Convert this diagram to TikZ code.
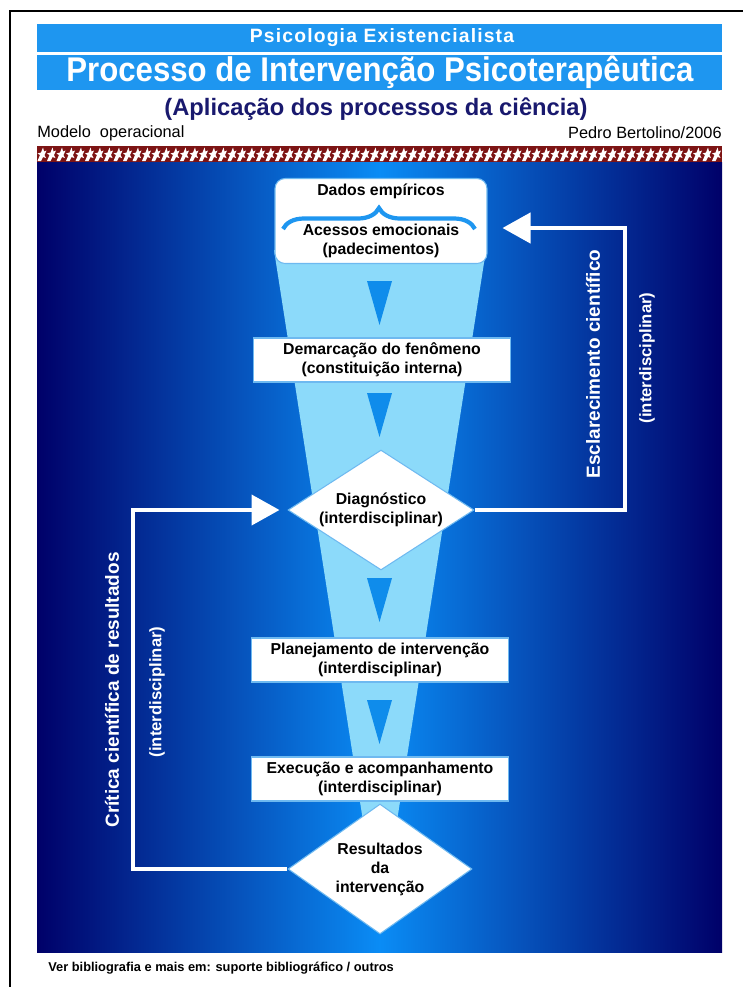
\documentclass[tikz,border=0pt]{standalone}
\usepackage{fontspec}
\setmainfont{Liberation Sans}
\usetikzlibrary{shapes,arrows,positioning,calc,decorations.pathreplacing,arrows.meta}

\definecolor{bandblue}{RGB}{30,150,240}
\definecolor{navy}{RGB}{0,0,105}
\definecolor{midblue}{RGB}{10,140,245}
\definecolor{funnelcyan}{RGB}{140,218,250}
\definecolor{triblue}{RGB}{15,140,235}
\definecolor{titlenavy}{RGB}{25,25,110}
\definecolor{maroon}{RGB}{125,20,20}
\definecolor{edgeblue}{RGB}{110,185,240}

\tikzset{
  box/.style={draw=edgeblue, fill=white, line width=0.6pt, align=center,
    font=\fontsize{9}{10.8}\selectfont\bfseries, minimum width=5.14cm,
    minimum height=0.88cm, inner sep=0pt},
  topbox/.style={box, rounded corners=0.2cm, minimum width=4.24cm, minimum height=1.7cm},
  decision/.style={diamond, draw=edgeblue, fill=white, line width=0.6pt, align=center,
    font=\fontsize{9}{10.8}\selectfont\bfseries, aspect=1.55, inner sep=0pt,
    minimum width=3.72cm, minimum height=2.4cm},
  loopline/.style={draw=white, line width=2.4pt, -{Triangle[length=0.56cm,width=0.6cm]}},
  vlabel/.style={rotate=90, text=white, font=\fontsize{10.8}{12}\selectfont\bfseries},
  vsub/.style={rotate=90, text=white, font=\fontsize{9.5}{11}\selectfont\bfseries}
}

\begin{document}
\begin{tikzpicture}[x=0.02cm,y=-0.02cm]
\useasboundingbox[fill=white] (0,0) rectangle (743,987);
\draw[line width=1.2pt] (743,11) -- (10,11) -- (10,987);

% cabecalho
\fill[bandblue] (37,24) rectangle (722,52);
\fill[bandblue] (37,55) rectangle (722,90);
\node[text=white, font=\fontsize{11}{13}\selectfont\bfseries\addfontfeature{LetterSpace=6}] (psico) at (382,38) {Psicologia Existencialista};
\node[text=white, font=\fontsize{19.5}{22}\selectfont\bfseries] (processo) at (380,72) {\scalebox{0.91}[1]{Processo de Intervenção Psicoterapêutica}};
\node[text=titlenavy, font=\fontsize{13.5}{16}\selectfont\bfseries] (aplic) at (376,109) {(Aplicação dos processos da ciência)};
\node[anchor=west, inner sep=0pt, font=\fontsize{9.3}{11}\selectfont] (modelo) at (37,133) {Modelo\ \ operacional};
\node[anchor=east, inner sep=0pt, font=\fontsize{9.3}{11}\selectfont] (autor) at (722,133) {Pedro Bertolino/2006};

% faixa
\fill[maroon] (37,146) rectangle (722,162);
\foreach \i [evaluate=\i as \hx using 37+9.5*\i] in {0,...,71}
  \fill[white] (\hx+0.5,161) -- (\hx+3,155) -- (\hx+0.5,153.5) -- (\hx+4,152.5) -- (\hx+6,147.5)
    -- (\hx+7,151.5) -- (\hx+9.5,150.5) -- (\hx+7.5,155) -- (\hx+9,158) -- (\hx+6,157)
    -- (\hx+4,161) -- cycle;

% painel
\shade[left color=navy, right color=navy, middle color=midblue] (37,162) rectangle (722,952);
\fill[funnelcyan] (274,250) -- (486,250) -- (380,930) -- cycle;
\foreach \ty in {281,393,578,700}
  \fill[triblue] (367,\ty) -- (392,\ty) -- (379.5,\ty+44) -- cycle;

% etapas
\node[topbox] (dados) at (381,221) {Dados empíricos\\[0.42cm]Acessos emocionais\\(padecimentos)};
\draw[decorate, decoration={brace, amplitude=0.42cm}, draw=bandblue, line width=2.4pt]
  (283,229) -- (475,229);
\node[box] (demarc) at (382,360) {Demarcação do fenômeno\\(constituição interna)};
\node[decision] (diag) at (381,510) {Diagnóstico\\(interdisciplinar)};
\node[box] (plan) at (380,660) {Planejamento de intervenção\\(interdisciplinar)};
\node[box] (exec) at (380,779) {Execução e acompanhamento\\(interdisciplinar)};
\node[decision, aspect=1.4, minimum width=3.68cm, minimum height=2.6cm] (result) at (380,869) {Resultados\\da\\intervenção};

% retornos
\coordinate (rcorner) at (625,228);
\coordinate (lcorner) at (133,510);
\draw[loopline, shorten >=0.3cm] (diag.east) -| (rcorner) -- (dados.east |- rcorner);
\draw[loopline, shorten >=0.16cm] (result.west) -| (lcorner) -- (diag.west);

\node[vlabel] (esclar) at (593,364) {Esclarecimento científico};
\node[vsub] (esclint) at (647,358) {(interdisciplinar)};
\node[vlabel] (critica) at (112,690) {Crítica científica de resultados};
\node[vsub] (critint) at (157,692) {(interdisciplinar)};

\node[anchor=west, inner sep=0pt, font=\fontsize{7.3}{8.5}\selectfont\bfseries] (biblio) at (48,968) {Ver bibliografia e mais em: suporte bibliográfico / outros};
\end{tikzpicture}
\end{document}
